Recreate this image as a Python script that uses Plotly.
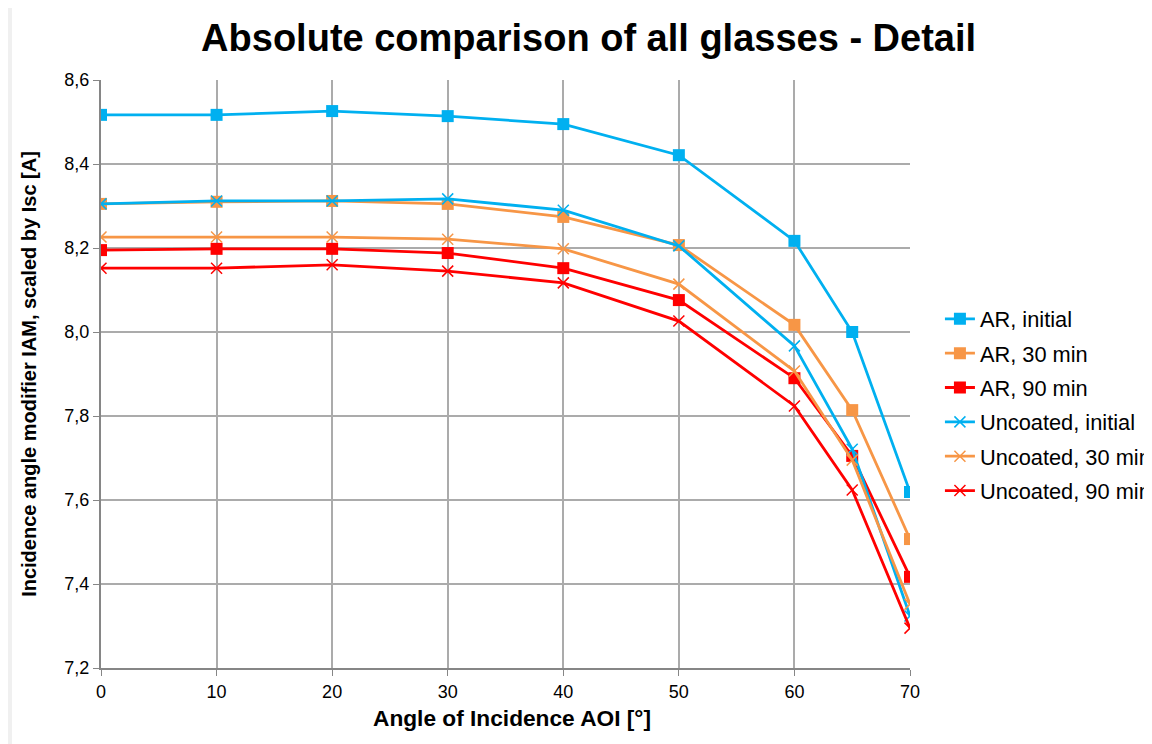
import plotly.graph_objects as go

aoi = [0, 10, 20, 30, 40, 50, 60, 65, 70]

ar_initial = [8.517, 8.517, 8.526, 8.514, 8.495, 8.421, 8.217, 8.000, 7.619]
ar_30 = [8.305, 8.310, 8.312, 8.305, 8.274, 8.207, 8.017, 7.814, 7.507]
ar_90 = [8.195, 8.198, 8.198, 8.188, 8.152, 8.076, 7.890, 7.705, 7.417]
unc_initial = [8.305, 8.312, 8.312, 8.317, 8.290, 8.205, 7.967, 7.721, 7.324]
unc_30 = [8.226, 8.226, 8.226, 8.221, 8.198, 8.114, 7.907, 7.695, 7.352]
unc_90 = [8.152, 8.152, 8.160, 8.145, 8.117, 8.026, 7.824, 7.624, 7.295]

series_names = ["AR, initial", "AR, 30 min", "AR, 90 min",
                "Uncoated, initial", "Uncoated, 30 min", "Uncoated, 90 min"]
series_values = [ar_initial, ar_30, ar_90, unc_initial, unc_30, unc_90]
colors = ["#00B0F0", "#F79646", "#FF0000", "#00B0F0", "#F79646", "#FF0000"]
symbols = ["square", "square", "square", "x-thin-open", "x-thin-open", "x-thin-open"]

y_ticks = [7.2, 7.4, 7.6, 7.8, 8.0, 8.2, 8.4, 8.6]
y_tick_labels = ["7,2", "7,4", "7,6", "7,8", "8,0", "8,2", "8,4", "8,6"]
x_ticks = [0, 10, 20, 30, 40, 50, 60, 70]

FONT = "Liberation Sans, Arial, sans-serif"

fig = go.Figure()
for i, (name, vals, c, s) in enumerate(zip(series_names, series_values, colors, symbols)):
    if s == "square":
        marker = dict(symbol=s, size=12, color=c, line=dict(width=0))
    else:
        marker = dict(symbol=s, size=11, color=c, line=dict(width=1.5, color=c))
    fig.add_trace(go.Scatter(
        x=aoi, y=vals, name=name, mode="lines+markers",
        line=dict(color=c, width=2.8), marker=marker,
        legendgroup="g%d" % i,
    ))

fig.update_layout(
    width=1152, height=744,
    paper_bgcolor="white", plot_bgcolor="white",
    margin=dict(l=93, r=250, t=72, b=84, autoexpand=False),
    font=dict(family=FONT, color="#000000"),
    title=dict(text="<b>Absolute comparison of all glasses - Detail</b>",
               x=0.504, xanchor="center", y=0.96, yanchor="middle",
               font=dict(size=38, family=FONT, color="#000000")),
    showlegend=True,
    legend=dict(x=1.037, xanchor="left", y=0.447, yanchor="middle",
                font=dict(size=21.8, family=FONT, color="#000000"),
                bgcolor="rgba(0,0,0,0)", itemwidth=30, tracegroupgap=3),
    shapes=[
        dict(type="rect", xref="paper", yref="paper", x0=-0.115, x1=-0.110,
             y0=-0.143, y1=1.123, fillcolor="#f0f0f0", line=dict(width=0), layer="below"),
    ],
    annotations=[
        dict(text="<b>Angle of Incidence AOI [°]</b>", xref="paper", yref="paper",
             x=0.508, y=-0.085, xanchor="center", yanchor="middle", showarrow=False,
             font=dict(size=22.7, family=FONT, color="#000000")),
    ],
)

fig.update_xaxes(
    range=[0, 70], tickvals=x_ticks, ticktext=[str(v) for v in x_ticks],
    showgrid=True, gridcolor="#ababab", gridwidth=2,
    showline=True, linecolor="#868686", linewidth=2,
    ticks="outside", ticklen=6, tickcolor="#868686",
    tickfont=dict(size=18, family=FONT, color="#000000"),
    zeroline=False,
)
fig.update_yaxes(
    range=[7.2, 8.6], tickvals=y_ticks, ticktext=y_tick_labels,
    showgrid=True, gridcolor="#ababab", gridwidth=2,
    showline=True, linecolor="#868686", linewidth=2,
    ticks="outside", ticklen=6, tickcolor="#868686",
    tickfont=dict(size=18, family=FONT, color="#000000"),
    title=dict(text="<b>Incidence angle modifier IAM, scaled by Isc [A]</b>",
               font=dict(size=20, family=FONT, color="#000000"), standoff=22),
    zeroline=False,
)

fig.write_html("out.html")
